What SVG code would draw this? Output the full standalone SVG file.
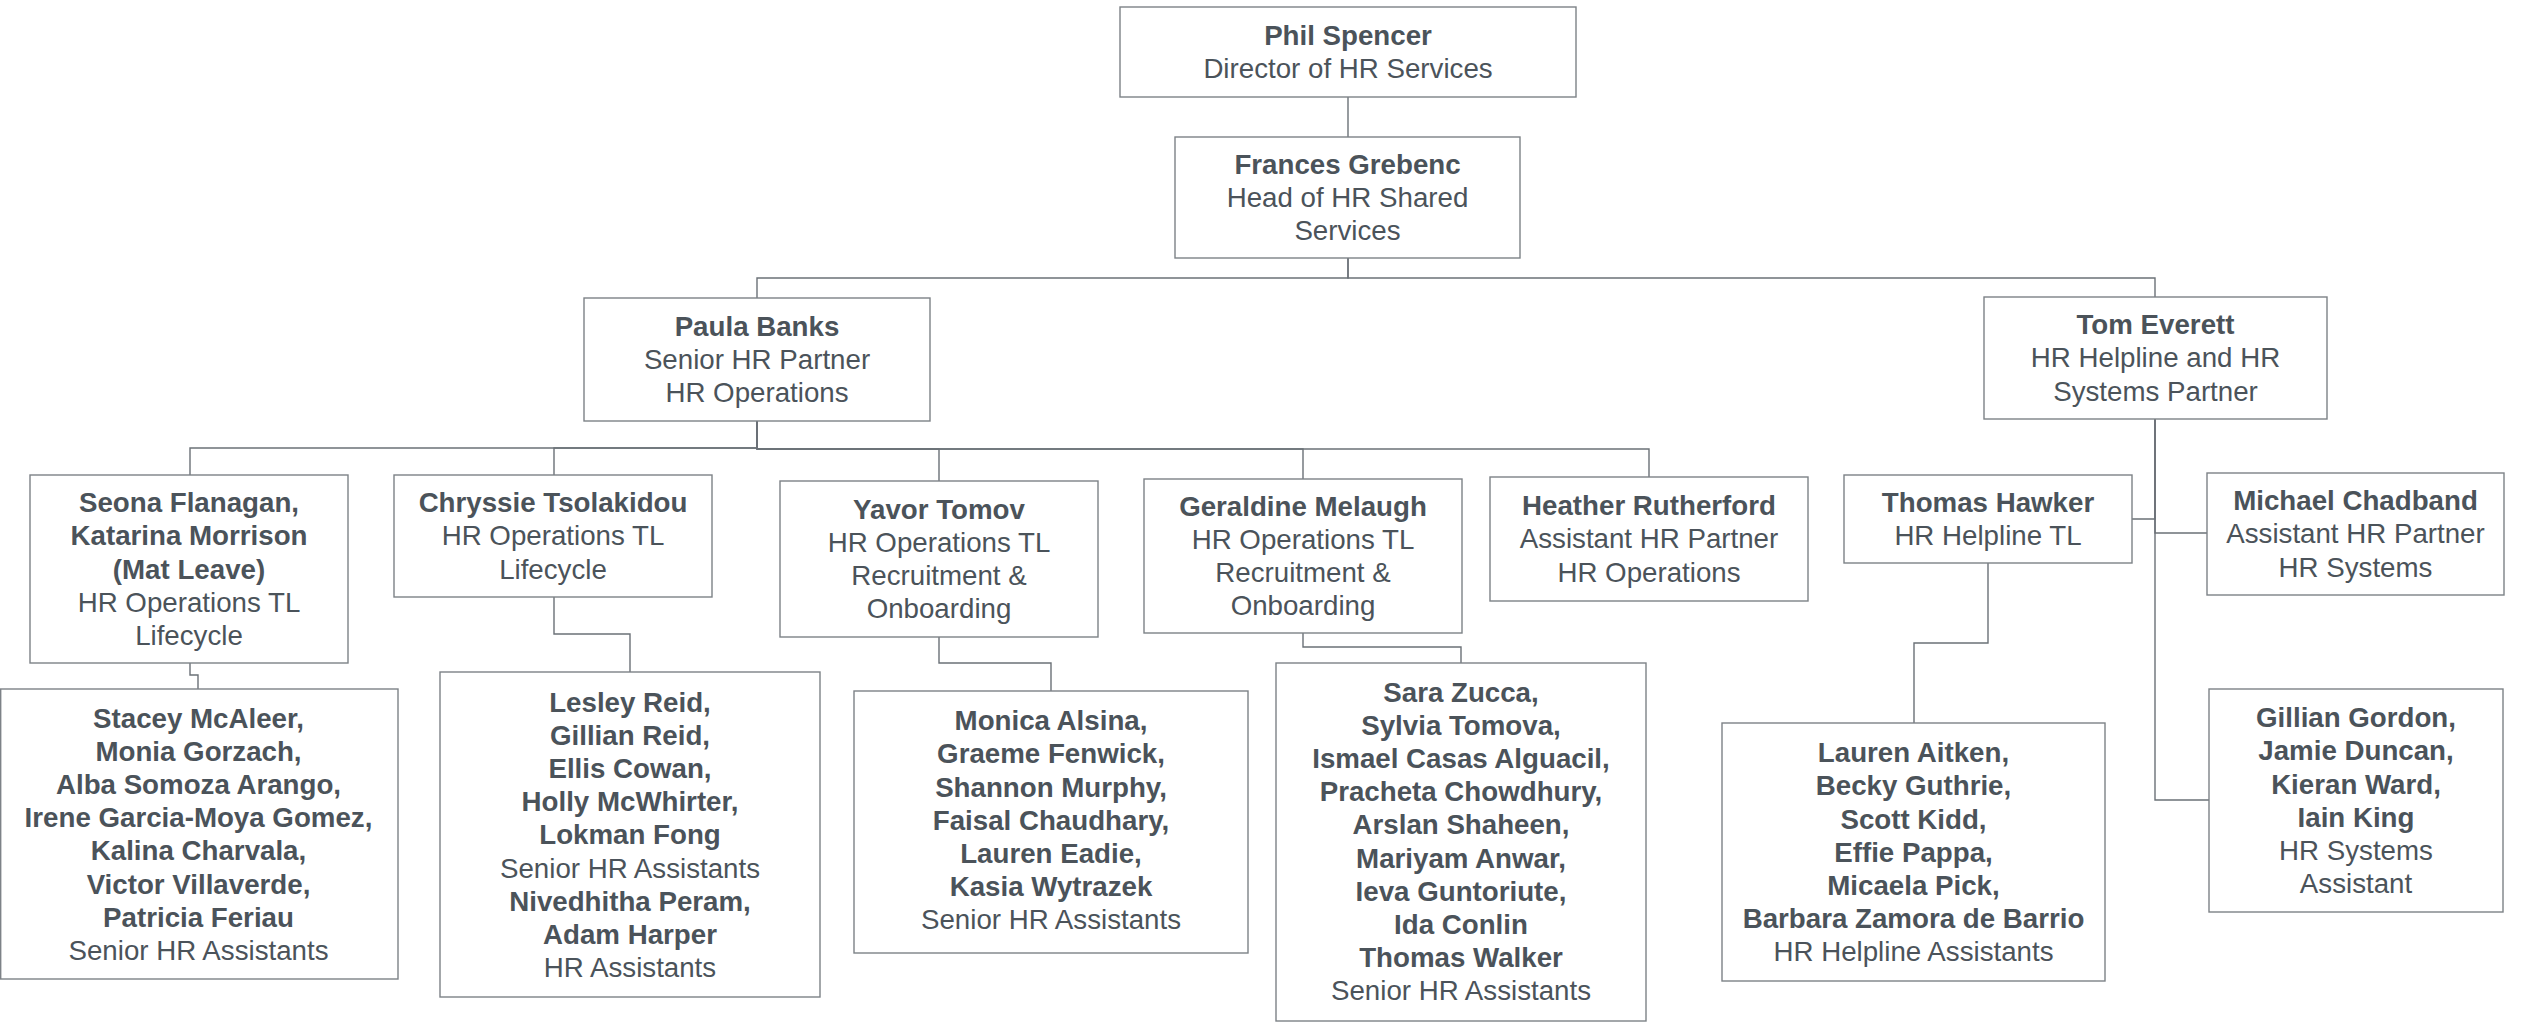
<svg xmlns="http://www.w3.org/2000/svg" width="2522" height="1023" viewBox="0 0 2522 1023">
<style>
.box{fill:#ffffff;stroke:#7d8287;stroke-width:1.4}
.lnk{fill:none;stroke:#6b7177;stroke-width:1.4}
text{font-family:"Liberation Sans",Arial,sans-serif;font-size:27.7px;fill:#4b535a;text-anchor:middle}
.b{font-weight:bold}
</style>
<rect x="0" y="0" width="2522" height="1023" fill="#ffffff"/>
<g id="connectors">
<path class="lnk" d="M1348 97V137"/>
<path class="lnk" d="M1348 258V278H757V298"/>
<path class="lnk" d="M1348 258V278H2155V297"/>
<path class="lnk" d="M757 421V448H190V475"/>
<path class="lnk" d="M757 421V448H554V475"/>
<path class="lnk" d="M757 421V449H939V481"/>
<path class="lnk" d="M757 421V449H1303V479"/>
<path class="lnk" d="M757 421V449H1649V477"/>
<path class="lnk" d="M2155 419V519H2132"/>
<path class="lnk" d="M2155 419V533H2207"/>
<path class="lnk" d="M2155 419V800H2209"/>
<path class="lnk" d="M190 663V675H198V689"/>
<path class="lnk" d="M554 597V634H630V672"/>
<path class="lnk" d="M939 637V663H1051V691"/>
<path class="lnk" d="M1303 633V647H1461V663"/>
<path class="lnk" d="M1988 563V643H1914V723"/>
</g>
<g id="phil">
<rect class="box" x="1120" y="7" width="456" height="90"/>
<text x="1348" y="44.6"><tspan class="b">Phil Spencer</tspan><tspan x="1348" dy="33.2">Director of HR Services</tspan></text>
</g>
<g id="frances">
<rect class="box" x="1175" y="137" width="345" height="121"/>
<text x="1347.5" y="173.6"><tspan class="b">Frances Grebenc</tspan><tspan x="1347.5" dy="33.2">Head of HR Shared</tspan><tspan x="1347.5" dy="33.2">Services</tspan></text>
</g>
<g id="paula">
<rect class="box" x="584" y="298" width="346" height="123"/>
<text x="757" y="335.6"><tspan class="b">Paula Banks</tspan><tspan x="757" dy="33.2">Senior HR Partner</tspan><tspan x="757" dy="33.2">HR Operations</tspan></text>
</g>
<g id="tom">
<rect class="box" x="1984" y="297" width="343" height="122"/>
<text x="2155.5" y="334.1"><tspan class="b">Tom Everett</tspan><tspan x="2155.5" dy="33.2">HR Helpline and HR</tspan><tspan x="2155.5" dy="33.2">Systems Partner</tspan></text>
</g>
<g id="seona">
<rect class="box" x="30" y="475" width="318" height="188"/>
<text x="189" y="512.1"><tspan class="b">Seona Flanagan,</tspan><tspan class="b" x="189" dy="33.2">Katarina Morrison</tspan><tspan class="b" x="189" dy="33.2">(Mat Leave)</tspan><tspan x="189" dy="33.2">HR Operations TL</tspan><tspan x="189" dy="33.2">Lifecycle</tspan></text>
</g>
<g id="chryssie">
<rect class="box" x="394" y="475" width="318" height="122"/>
<text x="553" y="512.1"><tspan class="b">Chryssie Tsolakidou</tspan><tspan x="553" dy="33.2">HR Operations TL</tspan><tspan x="553" dy="33.2">Lifecycle</tspan></text>
</g>
<g id="yavor">
<rect class="box" x="780" y="481" width="318" height="156"/>
<text x="939" y="518.6"><tspan class="b">Yavor Tomov</tspan><tspan x="939" dy="33.2">HR Operations TL</tspan><tspan x="939" dy="33.2">Recruitment &amp;</tspan><tspan x="939" dy="33.2">Onboarding</tspan></text>
</g>
<g id="geraldine">
<rect class="box" x="1144" y="479" width="318" height="154"/>
<text x="1303" y="515.6"><tspan class="b">Geraldine Melaugh</tspan><tspan x="1303" dy="33.2">HR Operations TL</tspan><tspan x="1303" dy="33.2">Recruitment &amp;</tspan><tspan x="1303" dy="33.2">Onboarding</tspan></text>
</g>
<g id="heather">
<rect class="box" x="1490" y="477" width="318" height="124"/>
<text x="1649" y="515.1"><tspan class="b">Heather Rutherford</tspan><tspan x="1649" dy="33.2">Assistant HR Partner</tspan><tspan x="1649" dy="33.2">HR Operations</tspan></text>
</g>
<g id="thomas">
<rect class="box" x="1844" y="475" width="288" height="88"/>
<text x="1988" y="511.6"><tspan class="b">Thomas Hawker</tspan><tspan x="1988" dy="33.2">HR Helpline TL</tspan></text>
</g>
<g id="michael">
<rect class="box" x="2207" y="473" width="297" height="122"/>
<text x="2355.5" y="510.1"><tspan class="b">Michael Chadband</tspan><tspan x="2355.5" dy="33.2">Assistant HR Partner</tspan><tspan x="2355.5" dy="33.2">HR Systems</tspan></text>
</g>
<g id="stacey">
<rect class="box" x="0.7" y="689" width="397.3" height="290"/>
<text x="198.5" y="727.6"><tspan class="b">Stacey McAleer,</tspan><tspan class="b" x="198.5" dy="33.2">Monia Gorzach,</tspan><tspan class="b" x="198.5" dy="33.2">Alba Somoza Arango,</tspan><tspan class="b" x="198.5" dy="33.2">Irene Garcia-Moya Gomez,</tspan><tspan class="b" x="198.5" dy="33.2">Kalina Charvala,</tspan><tspan class="b" x="198.5" dy="33.2">Victor Villaverde,</tspan><tspan class="b" x="198.5" dy="33.2">Patricia Feriau</tspan><tspan x="198.5" dy="33.2">Senior HR Assistants</tspan></text>
</g>
<g id="lesley">
<rect class="box" x="440" y="672" width="380" height="325"/>
<text x="630" y="711.6"><tspan class="b">Lesley Reid,</tspan><tspan class="b" x="630" dy="33.2">Gillian Reid,</tspan><tspan class="b" x="630" dy="33.2">Ellis Cowan,</tspan><tspan class="b" x="630" dy="33.2">Holly McWhirter,</tspan><tspan class="b" x="630" dy="33.2">Lokman Fong</tspan><tspan x="630" dy="33.2">Senior HR Assistants</tspan><tspan class="b" x="630" dy="33.2">Nivedhitha Peram,</tspan><tspan class="b" x="630" dy="33.2">Adam Harper</tspan><tspan x="630" dy="33.2">HR Assistants</tspan></text>
</g>
<g id="monica">
<rect class="box" x="854" y="691" width="394" height="262"/>
<text x="1051" y="730.1"><tspan class="b">Monica Alsina,</tspan><tspan class="b" x="1051" dy="33.2">Graeme Fenwick,</tspan><tspan class="b" x="1051" dy="33.2">Shannon Murphy,</tspan><tspan class="b" x="1051" dy="33.2">Faisal Chaudhary,</tspan><tspan class="b" x="1051" dy="33.2">Lauren Eadie,</tspan><tspan class="b" x="1051" dy="33.2">Kasia Wytrazek</tspan><tspan x="1051" dy="33.2">Senior HR Assistants</tspan></text>
</g>
<g id="sara">
<rect class="box" x="1276" y="663" width="370" height="358"/>
<text x="1461" y="701.6"><tspan class="b">Sara Zucca,</tspan><tspan class="b" x="1461" dy="33.2">Sylvia Tomova,</tspan><tspan class="b" x="1461" dy="33.2">Ismael Casas Alguacil,</tspan><tspan class="b" x="1461" dy="33.2">Pracheta Chowdhury,</tspan><tspan class="b" x="1461" dy="33.2">Arslan Shaheen,</tspan><tspan class="b" x="1461" dy="33.2">Mariyam Anwar,</tspan><tspan class="b" x="1461" dy="33.2">Ieva Guntoriute,</tspan><tspan class="b" x="1461" dy="33.2">Ida Conlin</tspan><tspan class="b" x="1461" dy="33.2">Thomas Walker</tspan><tspan x="1461" dy="33.2">Senior HR Assistants</tspan></text>
</g>
<g id="lauren">
<rect class="box" x="1722" y="723" width="383" height="258"/>
<text x="1913.5" y="762.1"><tspan class="b">Lauren Aitken,</tspan><tspan class="b" x="1913.5" dy="33.2">Becky Guthrie,</tspan><tspan class="b" x="1913.5" dy="33.2">Scott Kidd,</tspan><tspan class="b" x="1913.5" dy="33.2">Effie Pappa,</tspan><tspan class="b" x="1913.5" dy="33.2">Micaela Pick,</tspan><tspan class="b" x="1913.5" dy="33.2">Barbara Zamora de Barrio</tspan><tspan x="1913.5" dy="33.2">HR Helpline Assistants</tspan></text>
</g>
<g id="gillian">
<rect class="box" x="2209" y="689" width="294" height="223"/>
<text x="2356" y="727.1"><tspan class="b">Gillian Gordon,</tspan><tspan class="b" x="2356" dy="33.2">Jamie Duncan,</tspan><tspan class="b" x="2356" dy="33.2">Kieran Ward,</tspan><tspan class="b" x="2356" dy="33.2">Iain King</tspan><tspan x="2356" dy="33.2">HR Systems</tspan><tspan x="2356" dy="33.2">Assistant</tspan></text>
</g>
</svg>
